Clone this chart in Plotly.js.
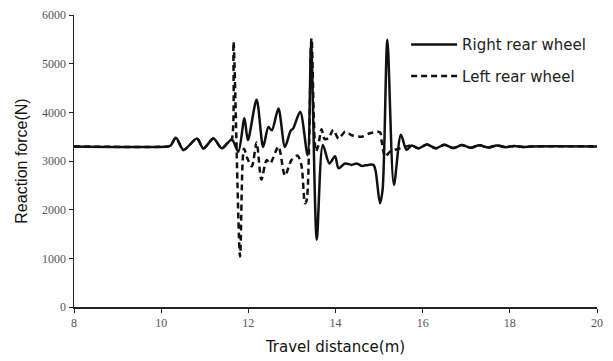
<!DOCTYPE html>
<html>
<head>
<meta charset="utf-8">
<script src="https://cdn.plot.ly/plotly-3.0.1.min.js"></script>
<style>html,body{margin:0;padding:0;background:#fff;}#chart{width:613px;height:361px;}</style>
</head>
<body>
<div id="chart"></div>
<script>
// Right rear wheel (solid)
const rightX = [8, 10.15, 10.22, 10.34, 10.51, 10.82, 10.97, 11.2, 11.39, 11.62, 11.77, 11.91, 11.99, 12.19, 12.34, 12.46, 12.54, 12.69, 12.84, 12.97, 13.03, 13.19, 13.36, 13.44, 13.57, 13.71, 13.86, 13.99, 14.07, 14.22, 14.37, 14.49, 14.60, 14.75, 14.87, 14.92, 15.02, 15.08, 15.19, 15.34, 15.50, 15.63, 15.75, 15.9, 16.1, 16.3, 16.5, 16.7, 16.9, 17.1, 17.3, 17.5, 17.7, 17.9, 18.1, 18.3, 18.5, 20];
const rightY = [3300, 3300, 3320, 3480, 3225, 3460, 3260, 3460, 3260, 3440, 3190, 3880, 3430, 4260, 3290, 3700, 3630, 4080, 3290, 3620, 3670, 4010, 3120, 5420, 1380, 3330, 2950, 3100, 2850, 2950, 2920, 2950, 2900, 2920, 2920, 2800, 2130, 2400, 5490, 2510, 3540, 3230, 3320, 3260, 3340, 3260, 3335, 3265, 3330, 3270, 3325, 3275, 3320, 3285, 3310, 3290, 3300, 3300];

// Left rear wheel (dashed)
const leftX = [8, 10.15, 10.22, 10.34, 10.51, 10.82, 10.97, 11.2, 11.39, 11.55, 11.62, 11.66, 11.81, 11.9, 11.98, 12.08, 12.19, 12.30, 12.42, 12.5, 12.69, 12.84, 12.99, 13.13, 13.22, 13.30, 13.34, 13.45, 13.55, 13.60, 13.68, 13.75, 13.84, 13.95, 14.07, 14.22, 14.37, 14.60, 14.79, 15.02, 15.06, 15.14, 15.25, 15.48, 15.63, 15.75, 15.9, 16.1, 16.3, 16.5, 16.7, 16.9, 17.1, 17.3, 17.5, 17.7, 17.9, 18.1, 18.3, 18.5, 20];
const leftY = [3300, 3300, 3320, 3480, 3225, 3460, 3260, 3460, 3260, 3400, 3450, 5450, 1040, 3250, 3050, 2890, 3380, 2620, 3020, 2950, 3295, 2700, 3020, 3110, 2900, 2130, 2200, 5520, 3200, 3300, 3650, 3450, 3470, 3640, 3460, 3600, 3530, 3500, 3570, 3590, 3400, 3090, 3190, 3260, 3300, 3320, 3260, 3340, 3260, 3335, 3265, 3330, 3270, 3325, 3275, 3320, 3285, 3310, 3290, 3300, 3300];

const xTicks = [8, 10, 12, 14, 16, 18, 20];
const yTicks = [0, 1000, 2000, 3000, 4000, 5000, 6000];
const seriesNames = ["Right rear wheel", "Left rear wheel"];

const traces = [
  {x: rightX, y: rightY, type: "scatter", mode: "lines", name: seriesNames[0], legendgroup: "a",
   line: {color: "#111", width: 2.5, shape: "spline", smoothing: 0.8}},
  {x: leftX, y: leftY, type: "scatter", mode: "lines", name: seriesNames[1], legendgroup: "b",
   line: {color: "#111", width: 2.5, dash: "6px,4px", shape: "spline", smoothing: 0.8}}
];

const tickFont = {family: "Liberation Serif, DejaVu Serif, serif", size: 12, color: "#555"};

const layout = {
  width: 613, height: 361,
  margin: {l: 74, r: 16, t: 15, b: 54},
  paper_bgcolor: "#fff", plot_bgcolor: "#fff",
  showlegend: true,
  legend: {x: 0.635, y: 0.955, xanchor: "left", yanchor: "top", bgcolor: "rgba(0,0,0,0)",
           traceorder: "grouped", tracegroupgap: 9, itemwidth: 46,
           font: {family: "DejaVu Sans, Verdana, sans-serif", size: 15, color: "#222"}},
  xaxis: {range: [8, 20], tickvals: xTicks, ticktext: xTicks.map(String),
          showgrid: false, zeroline: false, showline: true, linecolor: "#222", linewidth: 1.5,
          ticks: "outside", ticklen: 4, tickcolor: "#222", tickwidth: 1, tickfont: tickFont,
          title: {text: "Travel distance(m)", standoff: 12,
                  font: {family: "DejaVu Sans, Verdana, sans-serif", size: 15, color: "#111"}}},
  yaxis: {range: [0, 6000], tickvals: yTicks, ticktext: yTicks.map(String),
          showgrid: false, zeroline: false, showline: true, linecolor: "#222", linewidth: 1.5,
          ticks: "outside", ticklen: 4, tickcolor: "#222", tickwidth: 1, tickfont: tickFont,
          title: {text: "Reaction force(N)", standoff: 10,
                  font: {family: "Liberation Sans Narrow, Arial Narrow, Liberation Sans, sans-serif", size: 16, color: "#111"}}}
};

Plotly.newPlot("chart", traces, layout, {displayModeBar: false, staticPlot: true});
</script>
</body>
</html>
